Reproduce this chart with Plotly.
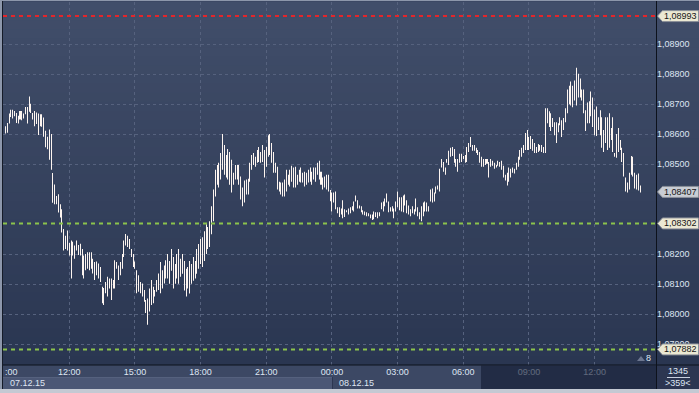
import numpy as np
import pandas as pd
import plotly.graph_objects as go

# ---------------- data (EURUSD M5, high / low per bar) ----------------
highs = [
    1.08626, 1.08637, 1.08668, 1.08681, 1.08681, 1.08677, 1.08670, 1.08661, 1.08677, 1.08677,
    1.08668, 1.08690, 1.08690, 1.08725, 1.08701, 1.08670, 1.08677, 1.08672, 1.08668, 1.08666,
    1.08666, 1.08655, 1.08611, 1.08591, 1.08615, 1.08600, 1.08470, 1.08432, 1.08393, 1.08399,
    1.08366, 1.08349, 1.08283, 1.08261, 1.08278, 1.08237, 1.08245, 1.08241, 1.08228, 1.08245,
    1.08230, 1.08234, 1.08217, 1.08195, 1.08200, 1.08206, 1.08206, 1.08206, 1.08184, 1.08173,
    1.08175, 1.08168, 1.08157, 1.08091, 1.08087, 1.08107, 1.08124, 1.08118, 1.08118, 1.08113,
    1.08179, 1.08173, 1.08162, 1.08173, 1.08200, 1.08245, 1.08267, 1.08261, 1.08250, 1.08217,
    1.08200, 1.08175, 1.08146, 1.08129, 1.08107, 1.08102, 1.08080, 1.08047, 1.08052, 1.08085,
    1.08113, 1.08091, 1.08080, 1.08113, 1.08135, 1.08173, 1.08146, 1.08162, 1.08179,
    1.08200, 1.08177, 1.08217, 1.08190, 1.08167, 1.08200, 1.08217, 1.08184, 1.08200, 1.08177,
    1.08151, 1.08157, 1.08177, 1.08167, 1.08190, 1.08177, 1.08217, 1.08233, 1.08250, 1.08256,
    1.08276, 1.08299, 1.08290, 1.08309, 1.08359,
    1.08415, 1.08481, 1.08497, 1.08504, 1.08537, 1.08600, 1.08563, 1.08530, 1.08550, 1.08540,
    1.08514, 1.08471, 1.08497, 1.08497, 1.08497, 1.08458, 1.08422, 1.08445, 1.08448, 1.08451,
    1.08504, 1.08530, 1.08537, 1.08524, 1.08547, 1.08557, 1.08540, 1.08563, 1.08547, 1.08557,
    1.08596, 1.08600, 1.08570, 1.08540, 1.08504, 1.08491, 1.08441, 1.08438, 1.08438, 1.08448,
    1.08481, 1.08464, 1.08481, 1.08494, 1.08488, 1.08491, 1.08464, 1.08481, 1.08488, 1.08471,
    1.08474, 1.08471, 1.08481, 1.08488, 1.08474, 1.08488, 1.08488, 1.08504, 1.08511, 1.08474,
    1.08455, 1.08458, 1.08464, 1.08464,
    1.08413, 1.08405, 1.08405, 1.08408, 1.08356, 1.08356, 1.08352, 1.08379, 1.08349, 1.08346,
    1.08352, 1.08356, 1.08359, 1.08375, 1.08395, 1.08379, 1.08362, 1.08359, 1.08346, 1.08342,
    1.08339, 1.08336, 1.08332, 1.08332, 1.08342, 1.08339, 1.08339, 1.08339, 1.08372, 1.08375,
    1.08385, 1.08402, 1.08375, 1.08356, 1.08359, 1.08352, 1.08375, 1.08408, 1.08389, 1.08389,
    1.08395, 1.08398, 1.08379, 1.08362, 1.08349, 1.08359, 1.08349, 1.08385, 1.08356, 1.08339,
    1.08359, 1.08372, 1.08375, 1.08372, 1.08359, 1.08415, 1.08418, 1.08405, 1.08425, 1.08428,
    1.08484, 1.08517, 1.08507, 1.08488, 1.08517, 1.08544, 1.08554, 1.08557, 1.08550, 1.08517,
    1.08517, 1.08534, 1.08534, 1.08527, 1.08530, 1.08557, 1.08570, 1.08590, 1.08563, 1.08563,
    1.08554, 1.08547, 1.08540, 1.08524, 1.08517, 1.08517, 1.08517, 1.08507, 1.08517, 1.08511,
    1.08504,
    1.08497, 1.08511, 1.08507, 1.08511, 1.08494, 1.08464, 1.08471, 1.08488, 1.08484, 1.08488,
    1.08484, 1.08504, 1.08524, 1.08547, 1.08554, 1.08563, 1.08603, 1.08613, 1.08590, 1.08593,
    1.08583, 1.08570, 1.08557, 1.08567, 1.08563, 1.08563, 1.08557, 1.08686, 1.08686, 1.08676,
    1.08669, 1.08653, 1.08639, 1.08639, 1.08636, 1.08656, 1.08646, 1.08653, 1.08686, 1.08748,
    1.08761, 1.08775, 1.08761, 1.08778, 1.08821, 1.08801, 1.08785, 1.08748, 1.08748, 1.08679,
    1.08705, 1.08709, 1.08742, 1.08722, 1.08682, 1.08692, 1.08656, 1.08679, 1.08656, 1.08613,
    1.08656, 1.08656, 1.08669, 1.08620, 1.08656, 1.08537, 1.08600, 1.08620, 1.08580, 1.08554,
    1.08537, 1.08455, 1.08438, 1.08471, 1.08527, 1.08524, 1.08471, 1.08464, 1.08468, 1.08428,
]
lows = [
    1.08602, 1.08604, 1.08635, 1.08657, 1.08652, 1.08659, 1.08637, 1.08635, 1.08648, 1.08646,
    1.08652, 1.08666, 1.08635, 1.08674, 1.08670, 1.08648, 1.08626, 1.08633, 1.08597, 1.08626,
    1.08624, 1.08591, 1.08556, 1.08549, 1.08514, 1.08481, 1.08371, 1.08366, 1.08366, 1.08338,
    1.08322, 1.08272, 1.08212, 1.08217, 1.08212, 1.08195, 1.08118, 1.08195, 1.08184, 1.08212,
    1.08197, 1.08195, 1.08129, 1.08118, 1.08146, 1.08151, 1.08146, 1.08151, 1.08135, 1.08113,
    1.08129, 1.08118, 1.08107, 1.08036, 1.08030, 1.08069, 1.08058, 1.08085, 1.08047, 1.08085,
    1.08085, 1.08151, 1.08113, 1.08129, 1.08151, 1.08190, 1.08228, 1.08223, 1.08217, 1.08190,
    1.08157, 1.08151, 1.08069, 1.08074, 1.08069, 1.08058, 1.08041, 1.08003, 1.07964, 1.08008,
    1.08030, 1.08036, 1.08058, 1.08074, 1.08080, 1.08069, 1.08085, 1.08102, 1.08118,
    1.08118, 1.08101, 1.08144, 1.08085, 1.08101, 1.08118, 1.08101, 1.08124, 1.08134, 1.08078,
    1.08058, 1.08085, 1.08068, 1.08101, 1.08111, 1.08118, 1.08134, 1.08151, 1.08167, 1.08157,
    1.08177, 1.08200, 1.08217, 1.08223, 1.08266,
    1.08309, 1.08392, 1.08431, 1.08422, 1.08448, 1.08481, 1.08464, 1.08455, 1.08448, 1.08431,
    1.08405, 1.08431, 1.08448, 1.08448, 1.08431, 1.08382, 1.08359, 1.08372, 1.08398, 1.08398,
    1.08441, 1.08481, 1.08497, 1.08491, 1.08504, 1.08507, 1.08504, 1.08507, 1.08455, 1.08491,
    1.08524, 1.08530, 1.08504, 1.08471, 1.08471, 1.08415, 1.08408, 1.08398, 1.08392, 1.08392,
    1.08408, 1.08431, 1.08425, 1.08441, 1.08422, 1.08422, 1.08431, 1.08441, 1.08438, 1.08438,
    1.08425, 1.08431, 1.08438, 1.08441, 1.08431, 1.08448, 1.08441, 1.08464, 1.08448, 1.08431,
    1.08415, 1.08422, 1.08415, 1.08408,
    1.08376, 1.08342, 1.08372, 1.08349, 1.08336, 1.08323, 1.08332, 1.08319, 1.08323, 1.08339,
    1.08332, 1.08336, 1.08346, 1.08342, 1.08375, 1.08352, 1.08352, 1.08339, 1.08332, 1.08329,
    1.08326, 1.08326, 1.08319, 1.08313, 1.08316, 1.08323, 1.08319, 1.08326, 1.08349, 1.08342,
    1.08359, 1.08372, 1.08339, 1.08342, 1.08342, 1.08319, 1.08342, 1.08356, 1.08346, 1.08342,
    1.08339, 1.08362, 1.08336, 1.08332, 1.08326, 1.08336, 1.08332, 1.08342, 1.08326, 1.08316,
    1.08309, 1.08326, 1.08342, 1.08342, 1.08342, 1.08375, 1.08372, 1.08375, 1.08402, 1.08415,
    1.08408, 1.08488, 1.08474, 1.08464, 1.08504, 1.08497, 1.08524, 1.08527, 1.08504, 1.08491,
    1.08474, 1.08504, 1.08507, 1.08517, 1.08504, 1.08507, 1.08540, 1.08557, 1.08544, 1.08544,
    1.08537, 1.08530, 1.08504, 1.08491, 1.08491, 1.08497, 1.08501, 1.08455, 1.08491, 1.08494,
    1.08484,
    1.08488, 1.08494, 1.08491, 1.08481, 1.08455, 1.08445, 1.08428, 1.08441, 1.08455, 1.08471,
    1.08468, 1.08481, 1.08491, 1.08514, 1.08524, 1.08537, 1.08547, 1.08547, 1.08547, 1.08550,
    1.08544, 1.08537, 1.08537, 1.08540, 1.08544, 1.08540, 1.08537, 1.08537, 1.08636, 1.08623,
    1.08610, 1.08623, 1.08596, 1.08570, 1.08606, 1.08629, 1.08590, 1.08613, 1.08639, 1.08669,
    1.08699, 1.08695, 1.08689, 1.08712, 1.08695, 1.08722, 1.08722, 1.08712, 1.08669, 1.08610,
    1.08636, 1.08636, 1.08659, 1.08623, 1.08596, 1.08593, 1.08613, 1.08596, 1.08554, 1.08540,
    1.08570, 1.08547, 1.08554, 1.08580, 1.08540, 1.08524, 1.08521, 1.08540, 1.08547, 1.08507,
    1.08458, 1.08408, 1.08405, 1.08415, 1.08464, 1.08458, 1.08418, 1.08415, 1.08412, 1.08405,
]
first_bar = "2015-12-07 09:05"
bar_freq = "5min"
tick_start, tick_end = "2015-12-07 09:00", "2015-12-08 12:00"
date_labels = ["07.12.15", "08.12.15"]
price_ticks = [1.079, 1.080, 1.081, 1.082, 1.085, 1.086, 1.087, 1.088, 1.089]
level_lines = [1.08993, 1.08302, 1.07882]
level_colors = ["#e3262b", "#8cc34c", "#8cc34c"]
last_price = 1.08407
footer_top, footer_bottom = "1345", ">359<"
corner_count = "8"
cut_label = ":00"

times = pd.date_range(first_bar, periods=len(highs), freq=bar_freq)
hi = np.array(highs)
lo = np.array(lows)
tick_times = pd.date_range(tick_start, tick_end, freq="3h")
tick_text = [t.strftime("%H:%M") for t in tick_times]

# ---------------- layout helpers (pixel -> paper) ----------------
W, H = 699, 393
PL, PR, PT, PB = 3, 656, 2, 365


def px(x):
    return (x - PL) / (PR - PL)


def py(y):
    return (PB - y) / (PB - PT)


def rect(x0, y0, x1, y1, fill, layer="below"):
    return dict(type="rect", xref="paper", yref="paper",
                x0=px(x0), x1=px(x1), y0=py(y1), y1=py(y0),
                fillcolor=fill, line=dict(width=0), layer=layer)


def hline(y, x0, x1, color, width=1, layer="above"):
    return dict(type="line", xref="paper", yref="paper", x0=px(x0), x1=px(x1),
                y0=py(y), y1=py(y), line=dict(color=color, width=width), layer=layer)


def vline(x, y0, y1, color, width=1, layer="above"):
    return dict(type="line", xref="paper", yref="paper", x0=px(x), x1=px(x),
                y0=py(y0), y1=py(y1), line=dict(color=color, width=width), layer=layer)


shapes = []
top_c = np.array([65, 78, 106])
bot_c = np.array([42, 54, 81])
n = 40
edges = np.linspace(PT, PB, n + 1)
for i in range(n):
    c = top_c + (bot_c - top_c) * (i + 0.5) / n
    shapes.append(rect(0, edges[i], W, edges[i + 1] + 0.5,
                       "rgb(%d,%d,%d)" % tuple(c.round().astype(int))))

shapes.append(rect(0, PB, PR, 389, "#3c4864"))
shapes.append(rect(3, 377, 332, 389, "#4b5775"))
shapes.append(rect(657, PB, W, 389, "#2c3651"))
shapes.append(rect(481, PB + 0.5, PR, 389, "rgba(20,28,50,0.62)", layer="above"))
shapes.append(rect(0, 389, W, H, "#c4c9d3", layer="above"))
shapes.append(hline(PB, 0, W, "#0d121c"))
shapes.append(vline(656.5, 0, 389, "#0d121c"))
shapes.append(rect(0, 0, 2, 389, "#8d97ab", layer="above"))
shapes.append(vline(2.5, 0, 389, "#151b28"))
shapes.append(hline(0.5, 0, W, "#8d97ab"))
shapes.append(hline(377.5, 3, 332, "#55617e"))
shapes.append(vline(332.5, 377, 389, "#2c3650"))
shapes.append(hline(377.5, 667, 690, "#c9d1e0"))
shapes.append(dict(type="path", xref="paper", yref="paper",
                   path="M %f,%f L %f,%f L %f,%f Z" % (px(637), py(361), px(645), py(361), px(641), py(356)),
                   fillcolor="#6d7790", line=dict(width=0), layer="above"))

for v, c in zip(level_lines, level_colors):
    shapes.append(dict(type="line", xref="paper", yref="y", x0=0, x1=1, y0=v, y1=v,
                       line=dict(color=c, width=2, dash="4px,4px"), layer="above"))

hh = 5.5 / 30000.0
tag_vals = [level_lines[0], last_price, level_lines[1], level_lines[2]]
tag_fill = ["#ebe8d3", "#c9cdd4", "#ebe8d3", "#ebe8d3"]
annotations = []
for v, f in zip(tag_vals, tag_fill):
    shapes.append(dict(type="path", xref="paper", yref="y",
                       path="M %f,%f L %f,%f L %f,%f L %f,%f L %f,%f Z" % (
                           px(657.5), v, px(662.5), v + hh, px(698.5), v + hh,
                           px(698.5), v - hh, px(662.5), v - hh),
                       fillcolor=f, line=dict(color="#8a8f98", width=1), layer="above"))
    annotations.append(dict(xref="paper", yref="y", x=px(661.5), y=v, xanchor="left",
                            yanchor="middle", text=("%.5f" % v).replace(".", ","),
                            showarrow=False, font=dict(size=9, color="#151515",
                                                       family="Liberation Sans")))

txt = dict(family="Liberation Sans", size=9, color="#dfe6f3")
annotations += [
    dict(xref="paper", yref="paper", x=px(8), y=py(383), text=date_labels[0],
         xanchor="left", yanchor="middle", showarrow=False, font=txt),
    dict(xref="paper", yref="paper", x=px(337), y=py(383), text=date_labels[1],
         xanchor="left", yanchor="middle", showarrow=False, font=txt),
    dict(xref="paper", yref="paper", x=px(678), y=py(371), text=footer_top,
         xanchor="center", yanchor="middle", showarrow=False, font=txt),
    dict(xref="paper", yref="paper", x=px(678), y=py(383), text=footer_bottom,
         xanchor="center", yanchor="middle", showarrow=False, font=txt),
    dict(xref="paper", yref="paper", x=px(648), y=py(358), text=corner_count,
         xanchor="center", yanchor="middle", showarrow=False, font=txt),
    dict(xref="paper", yref="paper", x=px(3), y=py(372), text=cut_label,
         xanchor="left", yanchor="middle", showarrow=False, font=txt),
]

fig = go.Figure()
fig.add_trace(go.Bar(x=times, y=hi - lo, base=lo, width=3000,
                     marker=dict(color="#fdf5f0", line=dict(width=0)),
                     hoverinfo="skip"))

x_left = pd.Timestamp("2015-12-07 09:00") - pd.Timedelta(minutes=1.6)
x_right = pd.Timestamp("2015-12-07 09:00") + pd.Timedelta(hours=(PR - 3.6) / 21.89)

fig.update_layout(
    width=W, height=H,
    margin=dict(l=PL, r=W - PR, t=PT, b=H - PB),
    paper_bgcolor="#3c4864",
    plot_bgcolor="rgba(0,0,0,0)",
    showlegend=False,
    separators=", ",
    font=dict(family="Liberation Sans", size=9, color="#dfe6f3"),
    shapes=shapes,
    annotations=annotations,
    xaxis=dict(range=[x_left, x_right], tickvals=tick_times, ticktext=tick_text,
               showgrid=True, gridcolor="#56627e", griddash="3px,3px", gridwidth=1,
               zeroline=False, showline=False, ticks="", tickfont=txt,
               fixedrange=True),
    yaxis=dict(range=[1.0783, 1.0904], side="right", tickvals=price_ticks,
               tickformat=".5f", showgrid=True, gridcolor="#56627e",
               griddash="3px,3px", gridwidth=1, zeroline=False, showline=False,
               ticks="", tickfont=txt, fixedrange=True),
)

fig.write_html("out.html")
